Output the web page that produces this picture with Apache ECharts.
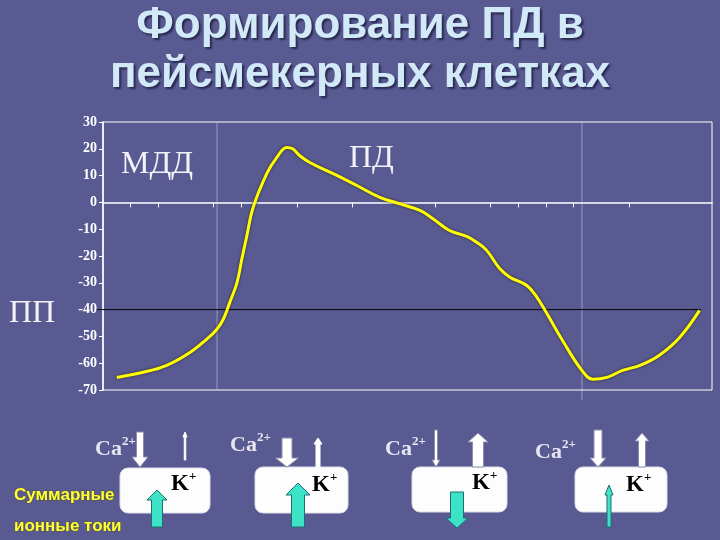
<!DOCTYPE html>
<html><head><meta charset="utf-8">
<script src="https://cdn.jsdelivr.net/npm/echarts@6/dist/echarts.min.js"></script>
<style>html,body{margin:0;padding:0;background:#5a5a93;}#c{width:720px;height:540px;}</style>
</head><body><div id="c"></div>
<script>
// time (arbitrary units) and membrane potential (mV)
var timeVals = [0.5,1.45,2.3,3.14,3.75,4.1,4.35,4.58,4.84,5.02,5.2,5.42,5.92,6.28,6.64,6.85,7.1,7.47,8.3,9.17,10.0,10.72,11.45,11.91,12.5,13.14,13.5,13.86,14.33,14.7,15.31,15.67,16.03,16.6,17.3,17.7,18.2,18.77,19.4,20.1,20.83,21.55];
var potentialVals = [-65.3,-63.4,-60.8,-56,-51,-47.5,-43.5,-37.3,-29.9,-20.9,-12.3,-2,10.8,16.8,20.5,20,17.5,14.9,10.8,6.3,1.9,-0.5,-3,-6,-10.4,-12.7,-14.9,-17.9,-24.7,-27.9,-31,-35.3,-41.4,-51.5,-62.7,-66,-65.3,-62.7,-60.8,-57,-50.4,-40.3];
var xTickVals = [1,2,4,5,7,9,12,14,15,16,17,19];
var thresholdVal = -40;
var titleLines = ['Формирование ПД в', 'пейсмекерных клетках'];
var phaseLabels = ['МДД', 'ПД', 'ПП'];

var chart = echarts.init(document.getElementById('c'));
var data = timeVals.map(function(t,i){return [t, potentialVals[i]];});

function arrow(cx, y0, y1, sw, hw, hl, fill, stroke){
  var d = y1 > y0 ? 1 : -1;
  var yb = y1 - d*hl;
  return {type:'polygon', z:20, shape:{points:[[cx-sw/2,y0],[cx+sw/2,y0],[cx+sw/2,yb],[cx+hw/2,yb],[cx,y1],[cx-hw/2,yb],[cx-sw/2,yb]]},
    style:{fill:fill, stroke:stroke, lineWidth:1}};
}
var W='#ffffff', WS='#8c8caa', C='#3de3c6', CS='#1e6e74';
function box(x,y,w,h){return {type:'rect', z:10, shape:{x:x,y:y,width:w,height:h,r:8}, style:{fill:'#fdfdfd', stroke:'#dcdce8', lineWidth:1}};}
function ca(x,y){return {type:'text', z:15, x:x, y:y, style:{text:'{a|Ca}{s|2+}', verticalAlign:'middle', rich:{a:{fontFamily:'Liberation Serif', fontWeight:'bold', fontSize:22, fill:'#e6e6f0'}, s:{fontFamily:'Liberation Serif', fontWeight:'bold', fontSize:13, fill:'#e6e6f0', verticalAlign:'top', padding:[0,0,14,0]}}}};}
function kk(x,y){return {type:'text', z:15, x:x, y:y, style:{text:'{a|K}{s|+}', verticalAlign:'middle', rich:{a:{fontFamily:'Liberation Serif', fontWeight:'bold', fontSize:23, fill:'#000'}, s:{fontFamily:'Liberation Serif', fontWeight:'bold', fontSize:13, fill:'#000', padding:[0,0,14,0]}}}};}

var graphics = [];
// title
graphics.push({type:'text', left:'center', top:4, z:30, style:{text:titleLines[0], fontFamily:'Liberation Sans', fontWeight:'bold', fontSize:44, fill:'#d2e9f8', textShadowColor:'rgba(20,20,50,0.7)', textShadowOffsetX:2, textShadowOffsetY:2, textShadowBlur:2}});
graphics.push({type:'text', left:'center', top:53, z:30, style:{text:titleLines[1], fontFamily:'Liberation Sans', fontWeight:'bold', fontSize:44, fill:'#d2e9f8', textShadowColor:'rgba(20,20,50,0.7)', textShadowOffsetX:2, textShadowOffsetY:2, textShadowBlur:2}});
// phase labels
var serifL = {fontFamily:'Liberation Serif', fontSize:32, fill:'#f2f2f8'};
graphics.push({type:'text', x:121, y:149, z:30, style:Object.assign({text:phaseLabels[0]}, serifL)});
graphics.push({type:'text', x:349, y:143, z:30, style:Object.assign({text:phaseLabels[1]}, serifL)});
graphics.push({type:'text', x:9, y:298, z:30, style:Object.assign({text:phaseLabels[2]}, serifL)});
// yellow caption
graphics.push({type:'text', x:14, y:480, z:30, style:{text:'Суммарные\nионные токи', fontFamily:'Liberation Sans', fontWeight:'bold', fontSize:17, lineHeight:31, fill:'#ffff3a', stroke:'#55552a', lineWidth:1}});
// unit 1
graphics.push(box(120,468,90,45), ca(95,449), arrow(140,432,467,7,16,10,W,WS), arrow(185,460,432,1.5,4,5,W,W), kk(171,484), arrow(157,527,490,11,20,10,C,CS));
// unit 2
graphics.push(box(255,467,93,46), ca(230,445), arrow(287,438,467,10,23,9,W,WS), arrow(318,467,438,4,8,6,W,W), kk(312,485), arrow(298,527,483,13,24,12,C,CS));
// unit 3
graphics.push(box(412,467,95,45), ca(385,449), arrow(436,430,467,3,8,7,W,WS), arrow(478,467,433,11,20,9,W,WS), kk(472,483), arrow(457,492,528,13,22,10,C,CS));
// unit 4
graphics.push(box(575,467,92,45), ca(535,452), arrow(598,430,467,8,16,9,W,WS), arrow(642,467,433,7,14,8,W,WS), kk(626,485), arrow(609,527,485,4,8,10,C,CS));

chart.setOption({
  backgroundColor:'#5a5a93',
  animation:false,
  grid:{left:103, right:8, top:122, bottom:150, show:true, borderColor:'#ffffff', borderWidth:1, backgroundColor:'transparent'},
  xAxis:{type:'value', min:0, max:22, interval:1,
    axisLine:{onZero:true, lineStyle:{color:'#ffffff', width:1.5}},
    axisTick:{show:true, length:5, customValues:xTickVals, lineStyle:{color:'#ffffff'}},
    axisLabel:{show:false}, splitLine:{show:false}},
  yAxis:{type:'value', min:-70, max:30, interval:10,
    axisLine:{show:true, lineStyle:{color:'#ffffff', width:1.5}},
    axisTick:{show:true, length:4, lineStyle:{color:'#ffffff'}},
    axisLabel:{color:'#ffffff', fontFamily:'Liberation Serif', fontWeight:'bold', fontSize:14, margin:6},
    splitLine:{show:false}},
  series:[{type:'line', data:data, smooth:0.4, symbol:'none', z:5,
    lineStyle:{color:'#ffff00', width:3, shadowColor:'rgba(30,30,20,0.8)', shadowBlur:3}}],
  graphic:{elements:graphics}
});

var pL = chart.convertToPixel({xAxisIndex:0, yAxisIndex:0}, [-0.22, thresholdVal]);
var pR = chart.convertToPixel({xAxisIndex:0, yAxisIndex:0}, [21.6, thresholdVal]);
var v1t = chart.convertToPixel({xAxisIndex:0, yAxisIndex:0}, [4.12, 30]);
var v1b = chart.convertToPixel({xAxisIndex:0, yAxisIndex:0}, [4.12, -70]);
var v2t = chart.convertToPixel({xAxisIndex:0, yAxisIndex:0}, [17.3, 30]);
var v2b = chart.convertToPixel({xAxisIndex:0, yAxisIndex:0}, [17.3, -70]);
chart.setOption({graphic:{elements:[
  {id:'thr', type:'line', z:4, shape:{x1:pL[0], y1:pL[1], x2:pR[0], y2:pR[1]}, style:{stroke:'#000000', lineWidth:1}},
  {id:'v1', type:'line', z:1, shape:{x1:v1t[0], y1:v1t[1], x2:v1b[0], y2:v1b[1]}, style:{stroke:'rgba(255,255,255,0.25)', lineWidth:1.5}},
  {id:'v2', type:'line', z:1, shape:{x1:v2t[0], y1:v2t[1], x2:v2b[0], y2:v2b[1]+10}, style:{stroke:'rgba(255,255,255,0.25)', lineWidth:1.5}}
]}});
</script></body></html>
